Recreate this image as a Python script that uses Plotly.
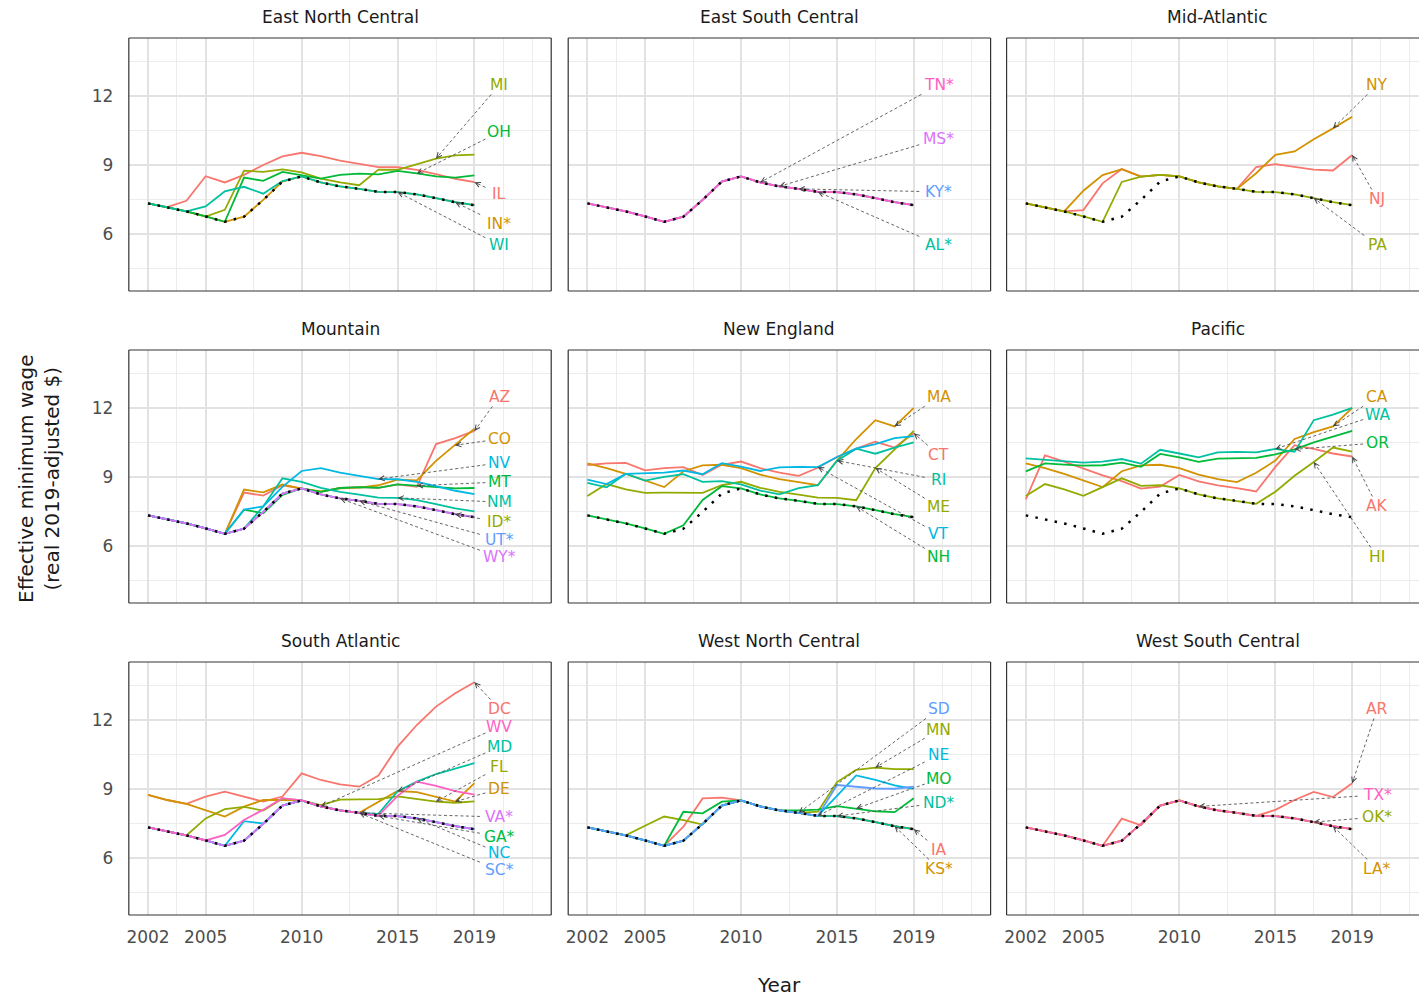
import math
import plotly.graph_objects as go

YEARS = list(range(2002, 2020))

# Federal minimum wage, real 2019 dollars
FEDERAL = [7.33, 7.17, 6.98, 6.76, 6.53, 6.75, 7.48, 8.28, 8.50, 8.24, 8.07, 7.96, 7.83, 7.82, 7.72, 7.56, 7.38, 7.25]

EAST_NORTH_CENTRAL = {
    "IL": [7.33, 7.17, 7.44, 8.51, 8.24, 8.57, 9.00, 9.37, 9.53, 9.38, 9.19, 9.05, 8.91, 8.90, 8.79, 8.60, 8.40, 8.25],
    "IN*": [7.33, 7.17, 6.98, 6.76, 6.53, 6.75, 7.48, 8.28, 8.50, 8.24, 8.07, 7.96, 7.83, 7.82, 7.72, 7.56, 7.38, 7.25],
    "MI": [7.33, 7.17, 6.98, 6.76, 7.05, 8.75, 8.70, 8.81, 8.68, 8.41, 8.24, 8.12, 8.80, 8.79, 9.05, 9.28, 9.42, 9.45],
    "OH": [7.33, 7.17, 6.98, 6.76, 6.53, 8.45, 8.31, 8.70, 8.56, 8.41, 8.57, 8.62, 8.59, 8.74, 8.63, 8.50, 8.45, 8.55],
    "WI": [7.33, 7.17, 6.98, 7.20, 7.85, 8.05, 7.75, 8.30, 8.50, 8.24, 8.07, 7.96, 7.83, 7.82, 7.72, 7.56, 7.38, 7.25],
}

EAST_SOUTH_CENTRAL = {
    "AL*": [7.33, 7.17, 6.98, 6.76, 6.53, 6.75, 7.48, 8.28, 8.50, 8.24, 8.07, 7.96, 7.83, 7.82, 7.72, 7.56, 7.38, 7.25],
    "KY*": [7.33, 7.17, 6.98, 6.76, 6.53, 6.75, 7.48, 8.28, 8.50, 8.24, 8.07, 7.96, 7.83, 7.82, 7.72, 7.56, 7.38, 7.25],
    "MS*": [7.33, 7.17, 6.98, 6.76, 6.53, 6.75, 7.48, 8.28, 8.50, 8.24, 8.07, 7.96, 7.83, 7.82, 7.72, 7.56, 7.38, 7.25],
    "TN*": [7.33, 7.17, 6.98, 6.76, 6.53, 6.75, 7.48, 8.28, 8.50, 8.24, 8.07, 7.96, 7.83, 7.82, 7.72, 7.56, 7.38, 7.25],
}

MID_ATLANTIC = {
    "NJ": [7.33, 7.17, 6.98, 7.04, 8.20, 8.82, 8.49, 8.57, 8.50, 8.24, 8.07, 7.96, 8.91, 9.04, 8.92, 8.80, 8.76, 9.43],
    "NY": [7.33, 7.17, 6.98, 7.88, 8.56, 8.82, 8.49, 8.57, 8.50, 8.24, 8.07, 7.96, 8.64, 9.44, 9.59, 10.12, 10.59, 11.10],
    "PA": [7.33, 7.17, 6.98, 6.76, 6.53, 8.26, 8.49, 8.57, 8.50, 8.24, 8.07, 7.96, 7.83, 7.82, 7.72, 7.56, 7.38, 7.25],
}

MOUNTAIN = {
    "AZ": [7.33, 7.17, 6.98, 6.76, 6.53, 8.32, 8.19, 8.64, 8.50, 8.35, 8.52, 8.56, 8.53, 8.68, 8.57, 10.43, 10.69, 11.00],
    "CO": [7.33, 7.17, 6.98, 6.76, 6.53, 8.45, 8.33, 8.67, 8.49, 8.37, 8.51, 8.54, 8.64, 8.88, 8.85, 9.70, 10.38, 11.10],
    "ID*": [7.33, 7.17, 6.98, 6.76, 6.53, 6.75, 7.48, 8.28, 8.50, 8.24, 8.07, 7.96, 7.83, 7.82, 7.72, 7.56, 7.38, 7.25],
    "MT": [7.33, 7.17, 6.98, 6.76, 6.53, 7.58, 7.42, 8.22, 8.50, 8.35, 8.52, 8.56, 8.53, 8.68, 8.62, 8.55, 8.50, 8.52],
    "NM": [7.33, 7.17, 6.98, 6.76, 6.53, 6.75, 7.72, 8.94, 8.79, 8.53, 8.35, 8.23, 8.10, 8.09, 7.99, 7.82, 7.63, 7.50],
    "NV": [7.33, 7.17, 6.98, 6.76, 6.53, 7.58, 7.72, 8.57, 9.26, 9.38, 9.19, 9.05, 8.91, 8.90, 8.79, 8.60, 8.40, 8.25],
    "UT*": [7.33, 7.17, 6.98, 6.76, 6.53, 6.75, 7.48, 8.28, 8.50, 8.24, 8.07, 7.96, 7.83, 7.82, 7.72, 7.56, 7.38, 7.25],
    "WY*": [7.33, 7.17, 6.98, 6.76, 6.53, 6.75, 7.48, 8.28, 8.50, 8.24, 8.07, 7.96, 7.83, 7.82, 7.72, 7.56, 7.38, 7.25],
}

NEW_ENGLAND = {
    "CT": [9.52, 9.59, 9.61, 9.29, 9.38, 9.43, 9.08, 9.53, 9.67, 9.38, 9.19, 9.05, 9.40, 9.87, 10.23, 10.53, 10.28, 10.90],
    "MA": [9.59, 9.38, 9.13, 8.84, 8.56, 9.25, 9.50, 9.53, 9.38, 9.10, 8.91, 8.78, 8.64, 9.71, 10.65, 11.47, 11.20, 12.00],
    "ME": [8.17, 8.69, 8.46, 8.31, 8.32, 8.32, 8.31, 8.64, 8.79, 8.53, 8.35, 8.23, 8.10, 8.09, 7.99, 9.39, 10.18, 11.00],
    "NH": [7.33, 7.17, 6.98, 6.76, 6.53, 6.90, 8.00, 8.60, 8.50, 8.24, 8.07, 7.96, 7.83, 7.82, 7.72, 7.56, 7.38, 7.25],
    "RI": [8.74, 8.55, 9.14, 8.84, 9.00, 9.12, 8.79, 8.82, 8.68, 8.41, 8.24, 8.51, 8.64, 9.71, 10.23, 10.01, 10.28, 10.50],
    "VT": [8.88, 8.69, 9.13, 9.16, 9.19, 9.28, 9.12, 9.60, 9.45, 9.26, 9.42, 9.44, 9.43, 9.87, 10.23, 10.43, 10.69, 10.78],
}

PACIFIC = {
    "AK": [8.03, 9.94, 9.67, 9.36, 9.07, 8.82, 8.49, 8.58, 9.09, 8.81, 8.63, 8.51, 8.37, 9.44, 10.38, 10.22, 10.02, 9.89],
    "CA": [9.59, 9.38, 9.13, 8.84, 8.56, 9.25, 9.50, 9.53, 9.38, 9.10, 8.91, 8.78, 9.18, 9.71, 10.65, 10.95, 11.20, 12.00],
    "HI": [8.17, 8.69, 8.46, 8.18, 8.56, 8.94, 8.61, 8.64, 8.50, 8.24, 8.07, 7.96, 7.83, 8.36, 9.05, 9.65, 10.28, 10.10],
    "OR": [9.24, 9.59, 9.54, 9.49, 9.51, 9.62, 9.44, 10.00, 9.85, 9.66, 9.80, 9.82, 9.83, 9.98, 10.20, 10.50, 10.75, 11.00],
    "WA": [9.81, 9.74, 9.69, 9.62, 9.67, 9.78, 9.58, 10.18, 10.02, 9.85, 10.07, 10.09, 10.07, 10.22, 10.09, 11.47, 11.71, 12.00],
}

SOUTH_ATLANTIC = {
    "DC": [8.74, 8.52, 8.35, 8.67, 8.88, 8.67, 8.45, 8.67, 9.68, 9.39, 9.20, 9.10, 9.58, 10.84, 11.78, 12.58, 13.16, 13.64],
    "DE": [8.74, 8.52, 8.35, 8.09, 7.80, 8.23, 8.52, 8.52, 8.50, 8.24, 8.07, 7.96, 8.45, 8.91, 8.86, 8.67, 8.45, 9.25],
    "FL": [7.33, 7.17, 6.98, 7.72, 8.12, 8.22, 8.06, 8.58, 8.50, 8.30, 8.54, 8.55, 8.56, 8.68, 8.57, 8.45, 8.40, 8.46],
    "GA*": [7.33, 7.17, 6.98, 6.76, 6.53, 6.75, 7.48, 8.28, 8.50, 8.24, 8.07, 7.96, 7.83, 7.82, 7.72, 7.56, 7.38, 7.25],
    "MD": [7.33, 7.17, 6.98, 6.76, 6.53, 6.75, 7.48, 8.28, 8.50, 8.24, 8.07, 7.96, 7.92, 8.90, 9.32, 9.65, 9.90, 10.12],
    "NC": [7.33, 7.17, 6.98, 6.76, 6.53, 7.60, 7.50, 8.28, 8.50, 8.24, 8.07, 7.96, 7.83, 7.82, 7.72, 7.56, 7.38, 7.25],
    "SC*": [7.33, 7.17, 6.98, 6.76, 6.53, 6.75, 7.48, 8.28, 8.50, 8.24, 8.07, 7.96, 7.83, 7.82, 7.72, 7.56, 7.38, 7.25],
    "VA*": [7.33, 7.17, 6.98, 6.76, 6.53, 6.75, 7.48, 8.28, 8.50, 8.24, 8.07, 7.96, 7.83, 7.82, 7.72, 7.56, 7.38, 7.25],
    "WV": [7.33, 7.17, 6.98, 6.76, 7.00, 7.65, 8.10, 8.60, 8.50, 8.24, 8.07, 7.96, 7.83, 8.70, 9.32, 9.13, 8.91, 8.75],
}

WEST_NORTH_CENTRAL = {
    "IA": [7.33, 7.17, 6.98, 6.76, 6.53, 7.36, 8.59, 8.62, 8.50, 8.24, 8.07, 7.96, 7.83, 7.82, 7.72, 7.56, 7.38, 7.25],
    "KS*": [7.33, 7.17, 6.98, 6.76, 6.53, 6.75, 7.48, 8.28, 8.50, 8.24, 8.07, 7.96, 7.83, 7.82, 7.72, 7.56, 7.38, 7.25],
    "MN": [7.33, 7.17, 6.98, 7.40, 7.80, 7.65, 7.45, 8.28, 8.50, 8.24, 8.07, 7.96, 8.01, 9.30, 9.83, 9.93, 9.86, 9.86],
    "MO": [7.33, 7.17, 6.98, 6.76, 6.53, 8.01, 7.94, 8.45, 8.50, 8.24, 8.07, 8.07, 8.10, 8.25, 8.15, 8.03, 7.99, 8.60],
    "ND*": [7.33, 7.17, 6.98, 6.76, 6.53, 6.75, 7.48, 8.28, 8.50, 8.24, 8.07, 7.96, 7.83, 7.82, 7.72, 7.56, 7.38, 7.25],
    "NE": [7.33, 7.17, 6.98, 6.76, 6.53, 6.75, 7.48, 8.28, 8.50, 8.24, 8.07, 7.96, 7.83, 8.70, 9.59, 9.39, 9.16, 9.00],
    "SD": [7.33, 7.17, 6.98, 6.76, 6.53, 6.75, 7.48, 8.28, 8.50, 8.24, 8.07, 7.96, 7.83, 9.17, 9.11, 9.02, 9.01, 9.10],
}

WEST_SOUTH_CENTRAL = {
    "AR": [7.33, 7.17, 6.98, 6.76, 6.53, 7.71, 7.42, 8.28, 8.50, 8.24, 8.07, 7.96, 7.83, 8.09, 8.52, 8.87, 8.65, 9.25],
    "LA*": [7.33, 7.17, 6.98, 6.76, 6.53, 6.75, 7.48, 8.28, 8.50, 8.24, 8.07, 7.96, 7.83, 7.82, 7.72, 7.56, 7.38, 7.25],
    "OK*": [7.33, 7.17, 6.98, 6.76, 6.53, 6.75, 7.48, 8.28, 8.50, 8.24, 8.07, 7.96, 7.83, 7.82, 7.72, 7.56, 7.38, 7.25],
    "TX*": [7.33, 7.17, 6.98, 6.76, 6.53, 6.75, 7.48, 8.28, 8.50, 8.24, 8.07, 7.96, 7.83, 7.82, 7.72, 7.56, 7.38, 7.25],
}

X_TICKS = [2002, 2005, 2010, 2015, 2019]
X_MINOR = [2003.5, 2007.5, 2012.5, 2017, 2020.5, 2022]
Y_TICKS = [6, 9, 12]
Y_MINOR = [4.5, 7.5, 10.5, 13.5]

# ggplot-style hue palette
HUE = ["#F8766D", "#D39200", "#93AA00", "#00BA38", "#00C19F",
       "#00B9E3", "#619CFF", "#DB72FB", "#FF61C3"]

# palette index for each state line, in drawing order
COLOR_INDEX = [
    [0, 1, 2, 3, 4],
    [4, 6, 7, 8],
    [0, 1, 2],
    [0, 1, 2, 3, 4, 5, 6, 7],
    [0, 1, 2, 3, 4, 5],
    [0, 1, 2, 3, 4],
    [0, 1, 2, 3, 4, 5, 6, 7, 8],
    [0, 1, 2, 3, 4, 5, 6],
    [0, 1, 2, 8],
]

# repelled labels: state -> (year the pointer lands on, label height in $)
LABEL_PLACEMENT = [
    {"MI": (2017, 12.48), "OH": (2016, 10.43), "IL": (2019, 7.74), "IN*": (2018, 6.43), "WI": (2015, 5.52)},
    {"TN*": (2011, 12.48), "MS*": (2012, 10.13), "KY*": (2013, 7.83), "AL*": (2014, 5.52)},
    {"NY": (2018, 12.48), "NJ": (2019, 7.52), "PA": (2017, 5.52)},
    {"AZ": (2019, 12.48), "CO": (2018, 10.65), "NV": (2014, 9.61), "MT": (2016, 8.78),
     "NM": (2015, 7.91), "ID*": (2018, 7.04), "UT*": (2013, 6.27), "WY*": (2012, 5.50)},
    {"MA": (2018, 12.48), "CT": (2019, 9.96), "RI": (2015, 8.87), "ME": (2017, 7.70),
     "VT": (2014, 6.52), "NH": (2016, 5.52)},
    {"CA": (2018, 12.48), "WA": (2015, 11.70), "OR": (2016, 10.48), "AK": (2019, 7.74), "HI": (2017, 5.52)},
    {"DC": (2019, 12.48), "WV": (2011, 11.70), "MD": (2015, 10.83), "FL": (2017, 9.96), "DE": (2018, 9.00),
     "VA*": (2013, 7.78), "GA*": (2014, 6.93), "NC": (2016, 6.22), "SC*": (2013, 5.47)},
    {"SD": (2013, 12.48), "MN": (2017, 11.57), "NE": (2014, 10.48), "MO": (2016, 9.43),
     "ND*": (2015, 8.39), "IA": (2019, 6.35), "KS*": (2018, 5.52)},
    {"AR": (2019, 12.48), "TX*": (2011, 8.74), "OK*": (2017, 7.78), "LA*": (2018, 5.52)},
]

PANELS = [
    ("East North Central", EAST_NORTH_CENTRAL),
    ("East South Central", EAST_SOUTH_CENTRAL),
    ("Mid-Atlantic", MID_ATLANTIC),
    ("Mountain", MOUNTAIN),
    ("New England", NEW_ENGLAND),
    ("Pacific", PACIFIC),
    ("South Atlantic", SOUTH_ATLANTIC),
    ("West North Central", WEST_NORTH_CENTRAL),
    ("West South Central", WEST_SOUTH_CENTRAL),
]

# ---- page geometry (pixels) ----
W, H = 1419, 997
PANEL_W = 423
PANEL_LEFT = [127, 567, 1006]
PANEL_TOP = [38, 350, 662]
PANEL_H = 253
X_LO, X_HI = 2001.0, 2023.0
Y_LO, Y_HI = 3.52, 14.52
YEAR_PX = PANEL_W / (X_HI - X_LO)
VAL_PX = PANEL_H / (Y_HI - Y_LO)
LABEL_X = 2020.3
LABEL_SIZE = 15.5
FONT = "DejaVu Sans"

fig = go.Figure()
layout = dict(
    width=W, height=H,
    margin=dict(l=0, r=0, t=0, b=0),
    paper_bgcolor="white", plot_bgcolor="white",
    showlegend=False,
    font=dict(family=FONT, color="#4d4d4d"),
)
annotations = []
shapes = []

for i, (title, states) in enumerate(PANELS):
    r, c = divmod(i, 3)
    k = i + 1
    suffix = "" if k == 1 else str(k)
    xname, yname = "x" + suffix, "y" + suffix

    left = PANEL_LEFT[c]
    right = min(left + PANEL_W, W)
    top = PANEL_TOP[r]
    bottom = top + PANEL_H
    x_hi = X_LO + (right - left) / YEAR_PX

    layout["xaxis" + suffix] = dict(
        domain=[left / W, right / W], range=[X_LO, x_hi], anchor=yname,
        tickmode="array", tickvals=X_TICKS, showticklabels=(r == 2),
        ticks="outside", ticklen=7, tickcolor="rgba(0,0,0,0)",
        tickfont=dict(family=FONT, size=17, color="#4d4d4d"),
        showgrid=True, gridcolor="#e2e2e2", gridwidth=1.9,
        minor=dict(tickmode="array", tickvals=X_MINOR, showgrid=True,
                   gridcolor="#ececec", gridwidth=1.2, ticks=""),
        zeroline=False, showline=False, fixedrange=True,
    )
    layout["yaxis" + suffix] = dict(
        domain=[1 - bottom / H, 1 - top / H], range=[Y_LO, Y_HI], anchor=xname,
        tickmode="array", tickvals=Y_TICKS, showticklabels=(c == 0),
        ticks="outside", ticklen=11, tickcolor="rgba(0,0,0,0)",
        tickfont=dict(family=FONT, size=17, color="#4d4d4d"),
        showgrid=True, gridcolor="#e2e2e2", gridwidth=1.9,
        minor=dict(tickmode="array", tickvals=Y_MINOR, showgrid=True,
                   gridcolor="#ececec", gridwidth=1.2, ticks=""),
        zeroline=False, showline=False, fixedrange=True,
    )

    # state lines
    colors = {}
    for (state, values), ci in zip(states.items(), COLOR_INDEX[i]):
        colors[state] = HUE[ci]
        fig.add_trace(go.Scatter(
            x=YEARS, y=values, mode="lines", xaxis=xname, yaxis=yname,
            line=dict(color=HUE[ci], width=1.8), hoverinfo="skip", showlegend=False,
        ))

    # federal minimum, dotted, on top
    fig.add_trace(go.Scatter(
        x=YEARS, y=FEDERAL, mode="lines", xaxis=xname, yaxis=yname,
        line=dict(color="black", width=2.5, dash="2.5px,7.3px"),
        hoverinfo="skip", showlegend=False,
    ))

    # panel border (the last column runs off the page edge)
    border = dict(color="#333333", width=1.2)
    dx, dy = xname + " domain", yname + " domain"
    shapes.append(dict(type="line", xref=dx, yref=dy, x0=0, x1=1, y0=1, y1=1, line=border))
    shapes.append(dict(type="line", xref=dx, yref=dy, x0=0, x1=1, y0=0, y1=0, line=border))
    shapes.append(dict(type="line", xref=dx, yref=dy, x0=0, x1=0, y0=0, y1=1, line=border))
    if c < 2:
        shapes.append(dict(type="line", xref=dx, yref=dy, x0=1, x1=1, y0=0, y1=1, line=border))

    # strip title
    annotations.append(dict(
        text=title, xref="paper", yref="paper",
        x=(left + PANEL_W / 2) / W, y=1 - (top - 21) / H,
        xanchor="center", yanchor="middle", showarrow=False,
        font=dict(family=FONT, size=17, color="#1a1a1a"),
    ))

    # labels with dashed pointers
    for state, (tyear, ly) in LABEL_PLACEMENT[i].items():
        ty = states[state][YEARS.index(tyear)]
        tx = tyear
        annotations.append(dict(
            text=state, xref=xname, yref=yname, x=LABEL_X, y=ly,
            xanchor="center", yanchor="middle", showarrow=False,
            font=dict(family=FONT, size=LABEL_SIZE, color=colors[state]),
        ))
        # pointer start on the label box edge
        ddx = (tx - LABEL_X) * YEAR_PX
        ddy = (ty - ly) * VAL_PX
        hw = 5.5 * len(state) + 3
        hh = 9.5
        t = min(hw / abs(ddx) if ddx else 1e9, hh / abs(ddy) if ddy else 1e9)
        sx = LABEL_X + ddx * t / YEAR_PX
        sy = ly + ddy * t / VAL_PX
        shapes.append(dict(
            type="line", xref=xname, yref=yname, x0=sx, y0=sy, x1=tx, y1=ty,
            line=dict(color="#555555", width=0.9, dash="3px,2.5px"),
        ))
        # small arrowhead at the line end
        ux, uy = (sx - tx) * YEAR_PX, (sy - ty) * VAL_PX
        n = math.hypot(ux, uy) or 1.0
        annotations.append(dict(
            text="", xref=xname, yref=yname, x=tx, y=ty,
            ax=ux / n * 6, ay=-uy / n * 6, axref="pixel", ayref="pixel",
            showarrow=True, arrowhead=5, arrowsize=1.1, arrowwidth=0.9,
            arrowcolor="#444444", standoff=0,
        ))

# axis titles
annotations.append(dict(
    text="Year", xref="paper", yref="paper", x=778 / W, y=1 - 985 / H,
    xanchor="center", yanchor="middle", showarrow=False,
    font=dict(family=FONT, size=20, color="#1a1a1a"),
))
annotations.append(dict(
    text="Effective minimum wage<br>(real 2019-adjusted $)", xref="paper", yref="paper",
    x=37 / W, y=1 - 478 / H, xanchor="center", yanchor="middle", showarrow=False,
    textangle=-90, font=dict(family=FONT, size=20, color="#1a1a1a"),
))

layout["annotations"] = annotations
layout["shapes"] = shapes
fig.update_layout(**layout)
fig.write_html("out.html")
